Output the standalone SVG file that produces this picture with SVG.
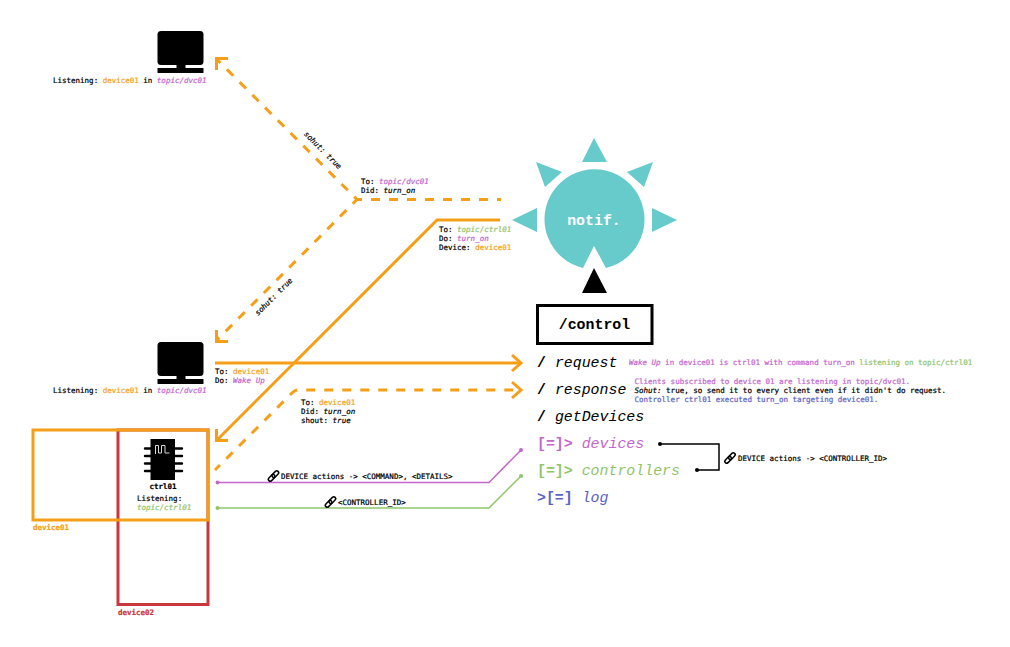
<svg xmlns="http://www.w3.org/2000/svg" width="1010" height="647" viewBox="0 0 1010 647">
<style>
text{font-family:"DejaVu Sans Mono","Liberation Mono",monospace;font-size:7.5px;fill:#000;stroke:#000;stroke-width:.22;white-space:pre}
.o{fill:#f59f18;stroke:#f59f18}.p{fill:#c366cf;stroke:#c366cf}.g{fill:#8fc56b;stroke:#8fc56b}.b{fill:#5c63c4;stroke:#5c63c4}.r{fill:#c8373c;stroke:#c8373c}
.i{font-style:italic}.w{font-weight:700}
.big{font-family:"Liberation Mono",monospace;font-size:14.9px;stroke-width:0}
.bi{font-style:italic}
.ln{fill:none;stroke:#f59f18;stroke-width:3}
.da{stroke-dasharray:9 9}
.th{fill:none;stroke-width:1.5}
.t{fill:#67cbcb}
.lk{fill:none;stroke:#000;stroke-width:1.5}
</style>
<defs>
<g id="link"><rect class="lk" x="-6.500" y="-1.900" width="7.800" height="3.800" rx="1.900" transform="rotate(-45)"/><rect class="lk" x="-1.300" y="-1.900" width="7.800" height="3.800" rx="1.900" transform="rotate(-45)"/></g>
<g id="monitor"><rect x="0" y="0" width="46" height="34" rx="3.500"/><rect x="19" y="33" width="9" height="4"/><rect x="0" y="37" width="46" height="5" rx="0.500"/></g>
</defs>
<rect width="1010" height="647" fill="#fff"/>
<g id="connectors">
<path class="ln da" stroke-dashoffset="5" d="M501 199.500H357L217 59.500"/>
<path class="ln da" stroke-dashoffset="3" d="M357 199.500L217 340"/>
<path class="ln" d="M228 58.500H216.500V70"/>
<path class="ln" d="M228 341.500H216.500V330"/>
<path class="ln" d="M500 220H437L217 440"/>
<path class="ln" d="M228 440.500H216.500V429"/>
<path class="ln" d="M215 363H521"/>
<path class="ln" d="M512 355L521 363L512 371"/>
<path class="ln da" stroke-dashoffset="2" d="M215 470L292 393Q295 390 298 390H521"/>
<path class="ln" d="M512 382L521 390L512 398"/>
<path fill="none" stroke="#c366cf" stroke-width="1.500" d="M217 482.500H489L521 450"/>
<circle cx="217.500" cy="482.500" r="2" fill="#c366cf"/><circle cx="521" cy="450" r="2" fill="#c366cf"/>
<path fill="none" stroke="#8fc56b" stroke-width="1.500" d="M217 508H489L521 476"/>
<circle cx="217.500" cy="508" r="2" fill="#8fc56b"/><circle cx="521" cy="476" r="2" fill="#8fc56b"/>
<path class="th" stroke="#000" d="M660 444H719V470H697"/>
<circle cx="660" cy="444" r="2"/><circle cx="697" cy="470" r="2"/>
</g>
<g id="conn-labels">
<text transform="translate(321 152) rotate(45)" text-anchor="middle"><tspan class="i">sohut:</tspan> <tspan class="i">true</tspan></text>
<text transform="translate(275.500 298.500) rotate(-45)" text-anchor="middle"><tspan class="i">sohut:</tspan> <tspan class="i">true</tspan></text>
<text x="361" y="184">To: <tspan class="p i">topic/dvc01</tspan></text>
<text x="361" y="193">Did: <tspan class="i">turn_on</tspan></text>
<text x="439" y="232">To: <tspan class="g i">topic/ctrl01</tspan></text>
<text x="439" y="241">Do: <tspan class="p i">turn_on</tspan></text>
<text x="439" y="250">Device: <tspan class="o">device01</tspan></text>
<text x="215" y="373.500">To: <tspan class="o">device01</tspan></text>
<text x="215" y="383">Do: <tspan class="p i">Wake Up</tspan></text>
<text x="301" y="405">To: <tspan class="o">device01</tspan></text>
<text x="301" y="414">Did: <tspan class="i">turn_on</tspan></text>
<text x="301" y="423">shout: <tspan class="i">true</tspan></text>
<use href="#link" x="273.500" y="476"/>
<text x="281" y="479">DEVICE actions -&gt; &lt;COMMAND&gt;, &lt;DETAILS&gt;</text>
<use href="#link" x="330.500" y="502"/>
<text x="338" y="505">&lt;CONTROLLER_ID&gt;</text>
<use href="#link" x="730" y="458"/>
<text x="738" y="461">DEVICE actions -&gt; &lt;CONTROLLER_ID&gt;</text>
</g>
<g id="client-top"><use href="#monitor" x="157.500" y="31"/>
<text x="53" y="83">Listening: <tspan class="o">device01</tspan> in <tspan class="p i">topic/dvc01</tspan></text></g>
<g id="client-mid"><use href="#monitor" x="157.500" y="342"/>
<text x="53" y="393">Listening: <tspan class="o">device01</tspan> in <tspan class="p i">topic/dvc01</tspan></text></g>
<g id="device02"><rect x="118" y="430" width="90" height="174.500" fill="none" stroke="#c8373c" stroke-width="3"/>
<text class="r w" x="118" y="615">device02</text></g>
<g id="device01"><rect x="33" y="430" width="175" height="90" fill="none" stroke="#f59f18" stroke-width="3"/>
<text class="o w" x="33" y="530">device01</text></g>
<g id="ctrl01">
<rect x="150.500" y="439" width="24.500" height="41"/>
<path stroke="#000" stroke-width="2.400" stroke-linecap="round" d="M145 448.500H182M145 456H182M145 463.500H182M145 471H182"/>
<path fill="none" stroke="#d8d8d8" stroke-width="1" d="M155.500 454V445.500H158.500V453H161.500V445.500H165V453H169.500"/>
<text class="w" x="163" y="489" text-anchor="middle">ctrl01</text>
<text x="137" y="501">Listening:</text>
<text class="g i" x="137" y="510">topic/ctrl01</text>
</g>
<g id="notif">
<path class="t" d="M583 268A50 50 0 1 1 606 268L594 246Z"/>
<path class="t" d="M594 138L582 162H607Z"/>
<path class="t" d="M512 220L537 208V232Z"/>
<path class="t" d="M677 220L652 208V232Z"/>
<path class="t" d="M536 162L562 172L545 187Z"/>
<path class="t" d="M653 162L627 172L644 187Z"/>
<path d="M594 268L582 293H607Z"/>
<text class="big w" x="594" y="225" text-anchor="middle" style="fill:#fff">notif.</text>
</g>
<g id="control"><rect x="537.500" y="305.500" width="114.500" height="38" fill="#fff" stroke="#000" stroke-width="3"/>
<text class="big w" x="594.500" y="329" text-anchor="middle">/control</text></g>
<g id="routes">
<text class="big" x="537" y="367"><tspan class="w">/</tspan> <tspan class="bi">request</tspan></text>
<text class="big" x="537" y="394"><tspan class="w">/</tspan> <tspan class="bi">response</tspan></text>
<text class="big" x="537" y="421"><tspan class="w">/</tspan> <tspan class="bi">getDevices</tspan></text>
<text class="big p" x="537" y="448" style="stroke-width:0"><tspan class="w">[=]&gt;</tspan> <tspan class="bi">devices</tspan></text>
<text class="big g" x="537" y="475" style="stroke-width:0"><tspan class="w">[=]&gt;</tspan> <tspan class="bi">controllers</tspan></text>
<text class="big b" x="537" y="502" style="stroke-width:0"><tspan class="w">&gt;[=]</tspan> <tspan class="bi">log</tspan></text>
</g>
<g id="notes">
<text class="p" x="629" y="365"><tspan class="i">Wake Up</tspan> in device01 is ctrl01 with command turn_on <tspan class="g">listening on topic/ctrl01</tspan></text>
<text class="p" x="634.500" y="383.500">Clients subscribed to device 01 are listening in topic/dvc01.</text>
<text x="634.500" y="392.500"><tspan class="i">Sohut:</tspan> true, so send it to every client even if it didn't do request.</text>
<text class="b" x="634.500" y="401.500">Controller ctrl01 executed turn_on targeting device01.</text>
</g>
</svg>
